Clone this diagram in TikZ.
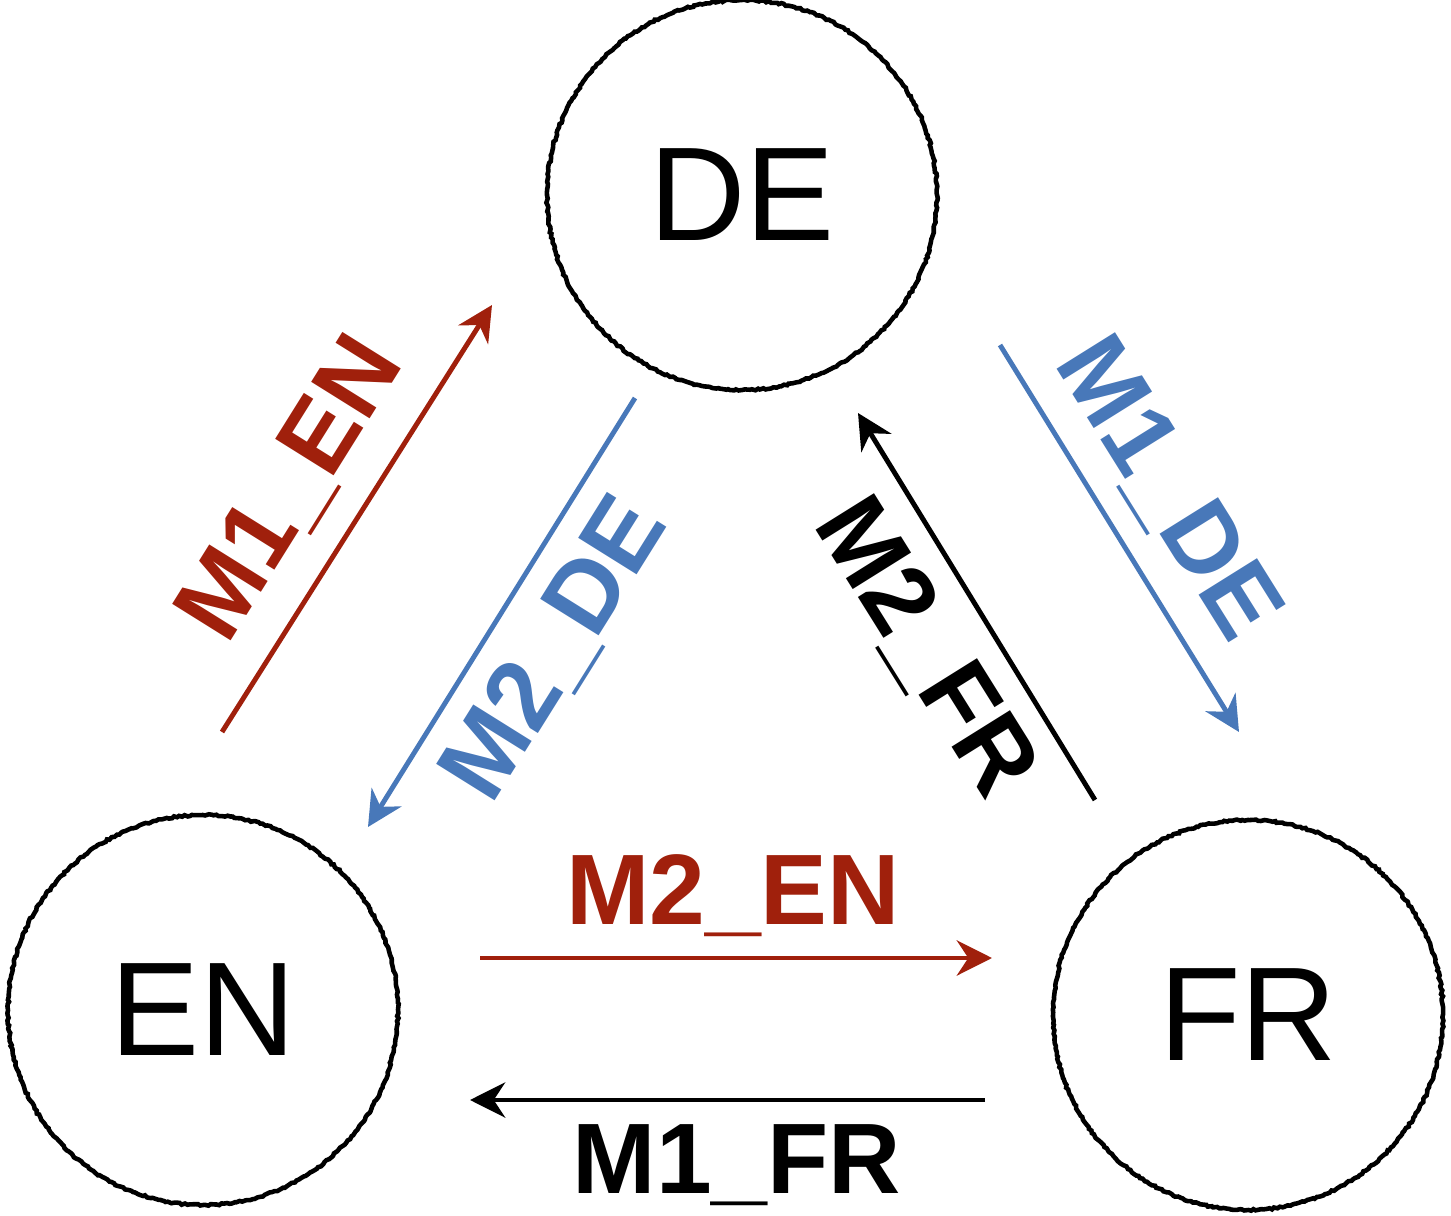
\documentclass[tikz,border=0pt]{standalone}
\usepackage{fontspec}
\setmainfont{Liberation Sans}
\usetikzlibrary{arrows.meta,decorations.pathmorphing}
\definecolor{mred}{RGB}{160,32,12}
\definecolor{mblue}{RGB}{72,120,185}
\tikzset{
  lang/.style={draw=black,circle,minimum size=7.8cm,line width=2.6pt,
    decorate,decoration={random steps,segment length=1.5pt,amplitude=0.5pt},
    font=\fontsize{76}{80}\selectfont},
  conn/.style={line width=2.8pt,-{Stealth[length=20pt,width=20pt]}},
  lbl/.style={font=\fontsize{57}{60}\selectfont\bfseries}
}
\begin{document}
\begin{tikzpicture}[x=0.02cm,y=-0.02cm]
\useasboundingbox (0,0) rectangle (1451,1216);
\node [lang] (DE) at (742,195) {DE};
\node [lang] (EN) at (203,1010) {EN};
\node [lang] (FR) at (1248,1015) {FR};
% arrow ends
\coordinate (m1ena) at (222,732);
\coordinate (m1enb) at (492,305);
\coordinate (m2dea) at (635,398);
\coordinate (m2deb) at (368,827);
\coordinate (m2fra) at (1095,800);
\coordinate (m2frb) at (858,413);
\coordinate (m1dea) at (1000,345);
\coordinate (m1deb) at (1239,732);
\coordinate (m2ena) at (480,958);
\coordinate (m2enb) at (992,958);
\coordinate (m1fra) at (985,1100);
\coordinate (m1frb) at (470,1100);
\draw [conn,mred] (m1ena) -- (m1enb);
\draw [conn,mblue] (m2dea) -- (m2deb);
\draw [conn,black] (m2fra) -- (m2frb);
\draw [conn,mblue] (m1dea) -- (m1deb);
\draw [conn,mred] (m2ena) -- (m2enb);
\draw [conn,black] (m1fra) -- (m1frb);
% labels
\node [lbl,mred,rotate=58] (l1) at (292,490) {M1\_EN};
\node [lbl,mblue,rotate=58] (l2) at (556,650) {M2\_DE};
\node [lbl,black,rotate=-58] (l3) at (924,648) {M2\_FR};
\node [lbl,mblue,rotate=-58] (l4) at (1166,490) {M1\_DE};
\node [lbl,mred] (l5) at (733,896) {M2\_EN};
\node [lbl,black] (l6) at (737,1165) {M1\_FR};
\end{tikzpicture}
\end{document}
